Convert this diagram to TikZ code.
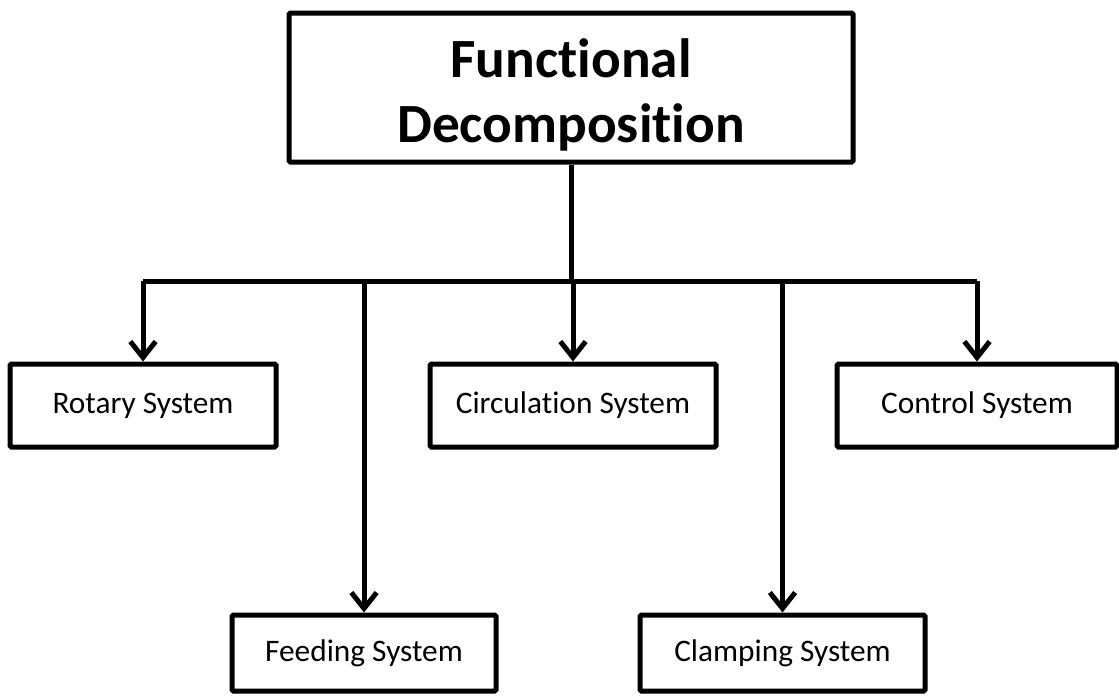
\documentclass[tikz,border=0pt]{standalone}
\usepackage{fontspec}
\setmainfont[Ligatures={NoCommon,NoContextual,NoRare},RawFeature={-liga;-clig;-dlig;-calt}]{Carlito}
\usetikzlibrary{arrows.meta}

\tikzset{
  sysbox/.style={draw, line width=3.75pt, rounded corners=1pt, inner sep=0pt, align=center,
    font=\fontsize{23.5}{28}\selectfont},
  arr/.style={-{Straight Barb[length=12pt,width=19pt]}}
}

\begin{document}
\begin{tikzpicture}[x=0.75pt,y=0.75pt,yscale=-1,xscale=1,line width=3.75pt]
\useasboundingbox (0,0) rectangle (1119,696);

% Top box
\node (fd) at (571,87.5) [sysbox, minimum width=423pt, minimum height=111.75pt,
  font=\fontsize{41.5}{48.5}\selectfont\bfseries] {\rule{0pt}{40pt}Functional\\Decomposition};

% Upper row
\node (rotary) at (143,405.5) [sysbox, minimum width=199.5pt, minimum height=62.25pt] {Rotary System};
\node (circ) at (573,405.5) [sysbox, minimum width=214.5pt, minimum height=62.25pt] {Circulation System};
\node (control) at (977,405.5) [sysbox, minimum width=210pt, minimum height=62.25pt] {Control System};

% Lower row
\node (feeding) at (364,653) [sysbox, minimum width=198pt, minimum height=57pt] {Feeding System};
\node (clamping) at (782.5,653) [sysbox, minimum width=213.75pt, minimum height=57pt] {Clamping System};

% Bus line
\coordinate (bus) at (571,281);
\draw (fd.south) -- (fd.south |- bus);
\draw (rotary.north |- bus) -- (control.north |- bus);

% Arrows
\draw[arr] (rotary.north |- bus) -- (rotary.north);
\draw[arr] (circ.north |- bus) -- (circ.north);
\draw[arr] (control.north |- bus) -- (control.north);
\draw[arr] (feeding.north |- bus) -- (feeding.north);
\draw[arr] (clamping.north |- bus) -- (clamping.north);

\end{tikzpicture}
\end{document}
